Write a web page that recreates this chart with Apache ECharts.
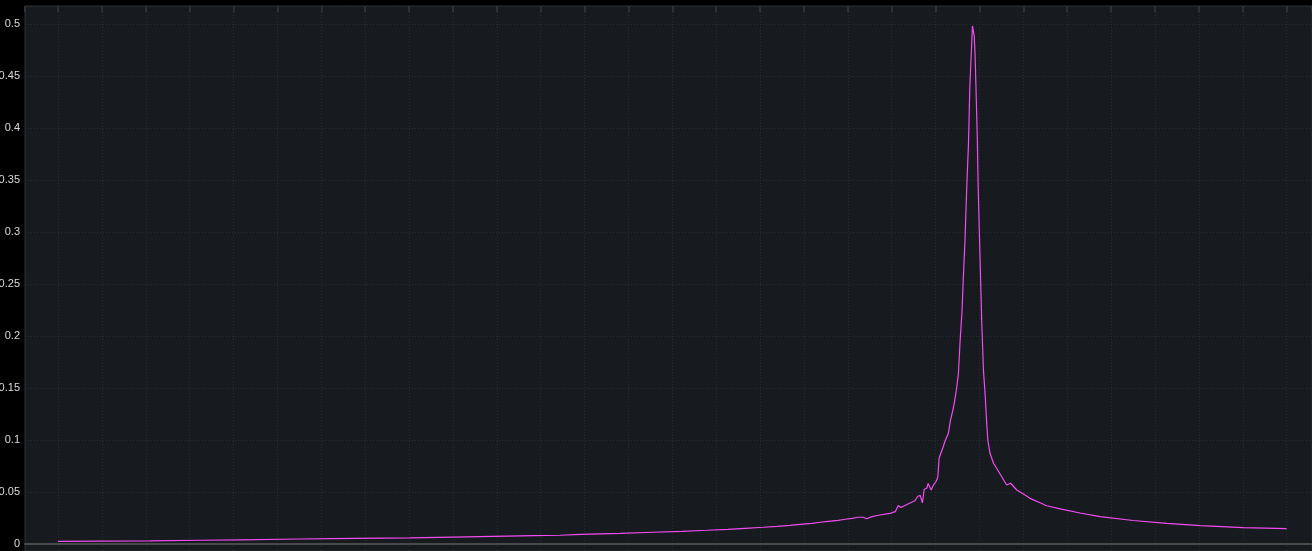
<!DOCTYPE html>
<html style="height:100%;">
<head>
    <meta charset="utf-8">
    <script src="https://cdn.jsdelivr.net/npm/echarts@6/dist/echarts.min.js"></script>
</head>
<body style="height:100%;margin:0;background:#000;">
    <div id="main" style="width:1312px;height:551px;"></div>
<script>
    // spectrum: x position (bin) and amplitude
    var freq = [
        0, 9.6, 21.0, 32.4, 41.5, 55.2, 62.0, 80.2, 96.2, 108.3,
        114.4, 119.2, 128.1, 135.4, 142.2, 147.9, 152.7, 156.6, 160.7, 163.9,
        166.8, 169.1, 171.8, 173.7, 175.5, 177.8, 179.4, 181.0, 182.3, 183.5,
        184.3, 185.5, 187.3, 189.6, 190.8, 191.5, 192.1, 193.7, 195.3, 195.9,
        196.5, 197.0, 197.4, 198.0, 198.3, 199.0, 199.5, 200.1, 200.5, 200.8,
        201.8, 202.1, 202.5, 202.9, 203.4, 203.9, 204.3, 204.8, 205.2, 205.6,
        206.0, 206.3, 206.7, 207.1, 207.5, 207.8, 208.4, 208.8, 209.0, 209.2,
        209.5, 209.7, 210.1, 210.5, 210.9, 211.3, 211.6, 211.9, 212.4, 213.2,
        214.7, 216.2, 217.1, 218.5, 220.0, 221.5, 223.8, 225.3, 228.4, 232.9,
        237.5, 245.0, 252.7, 260.3, 270.1, 280.0
    ];
    var amplitude = [
        0.0026, 0.0027, 0.0031, 0.0036, 0.0040, 0.0048, 0.0051, 0.0058, 0.0070, 0.0080,
        0.0084, 0.0093, 0.0103, 0.0113, 0.0122, 0.0132, 0.0141, 0.0151, 0.0161, 0.0170,
        0.0180, 0.0189, 0.0199, 0.0209, 0.0218, 0.0228, 0.0238, 0.0247, 0.0257, 0.0257,
        0.0243, 0.0263, 0.0279, 0.0295, 0.0311, 0.0370, 0.0351, 0.0385, 0.0416, 0.0457,
        0.0468, 0.0397, 0.0526, 0.0536, 0.0582, 0.0519, 0.0567, 0.0601, 0.0641, 0.0827,
        0.0942, 0.0984, 0.1000, 0.1064, 0.1192, 0.1280, 0.1365, 0.1500, 0.1641, 0.1962,
        0.2221, 0.2538, 0.2923, 0.3433, 0.3856, 0.4394, 0.4981, 0.4885, 0.4702, 0.4394,
        0.3913, 0.3433, 0.2798, 0.2154, 0.1673, 0.1433, 0.1192, 0.1000, 0.0872, 0.0776,
        0.0673, 0.0567, 0.0584, 0.0519, 0.0481, 0.0439, 0.0397, 0.0368, 0.0337, 0.0298,
        0.0264, 0.0226, 0.0199, 0.0176, 0.0157, 0.0147
    ];

    var data = [];
    for (var i = 0; i < freq.length; i++) {
        data.push([freq[i], amplitude[i]]);
    }

    var chart = echarts.init(document.getElementById('main'));
    var option = {
        backgroundColor: '#000',
        animation: false,
        grid: {
            left: 25, right: 0, top: 6, bottom: 0,
            containLabel: false,
            outerBoundsMode: 'none',
            show: true,
            backgroundColor: '#171b1f',
            borderColor: '#2c2e30',
            borderWidth: 1
        },
        xAxis: [{
            type: 'value',
            min: -7.52, max: 285.78,
            splitNumber: 29,
            minInterval: 10, maxInterval: 10,
            axisLabel: { show: false },
            axisTick: { show: false },
            axisLine: {
                show: true,
                onZero: true,
                lineStyle: { color: '#4a4a4a', width: 2, type: [2, 1] }
            },
            splitLine: {
                show: true,
                lineStyle: { color: '#272c31', width: 1, type: [1, 2] }
            }
        }, {
            type: 'value',
            position: 'top',
            min: -7.52, max: 285.78,
            splitNumber: 29,
            minInterval: 10, maxInterval: 10,
            axisLabel: { show: false },
            axisLine: { show: false },
            axisTick: {
                show: true, inside: true, length: 6,
                lineStyle: { color: '#2e3236', width: 2 }
            },
            splitLine: { show: false }
        }],
        yAxis: {
            type: 'value',
            min: -0.00673, max: 0.51731,
            splitNumber: 10,
            minInterval: 0.05, maxInterval: 0.05,
            axisLine: { show: false },
            axisTick: { show: false },
            axisLabel: {
                color: '#dcdcdc',
                fontSize: 11,
                margin: 5,
                showMinLabel: false,
                showMaxLabel: false
            },
            splitLine: {
                show: true,
                lineStyle: { color: '#272c31', width: 1, type: [1, 2] }
            }
        },
        series: [{
            type: 'line',
            data: data,
            showSymbol: false,
            symbol: 'none',
            lineStyle: { color: '#f24cf2', width: 1.2 }
        }]
    };
    chart.setOption(option);
</script>
</body>
</html>
